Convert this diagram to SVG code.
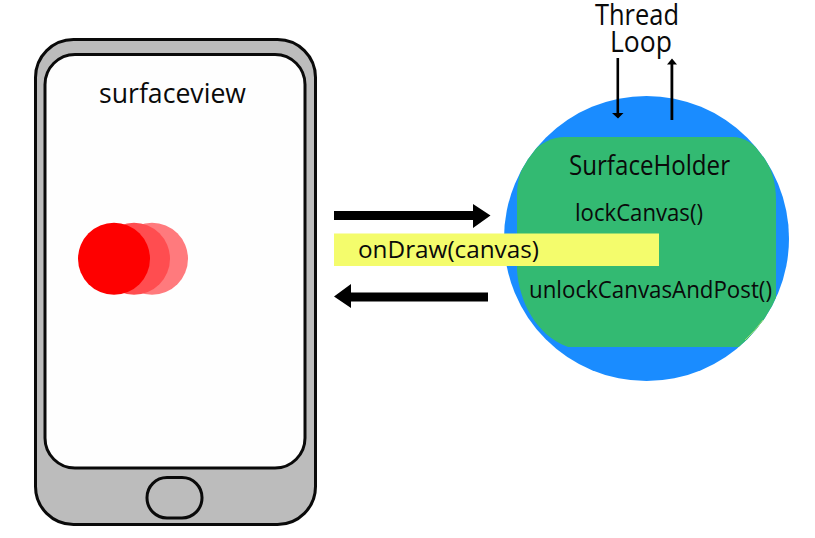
<svg xmlns="http://www.w3.org/2000/svg" width="815" height="538" viewBox="0 0 815 538">
<style>
text{font-family:"Open Sans","Noto Sans","Liberation Sans",sans-serif;fill:#0a0a0a}
.xl{font-size:28.500px}.l{font-size:26.500px}.m{font-size:24px}
.ph{stroke:#0a0a0a;stroke-width:3}
.a{fill:#000;stroke:none}
</style>
<defs><clipPath id="circ"><circle cx="646.5" cy="238.5" r="142.5"/></clipPath></defs>
<rect width="815" height="538" fill="#fff"/>
<g id="phone">
<rect class="ph" x="35.500" y="39.500" width="280" height="485" rx="38" fill="#bcbcbc"/>
<rect class="ph" x="45" y="54.500" width="260" height="413.500" rx="30" fill="#fefefe"/>
<rect class="ph" x="147" y="477.500" width="55" height="40.500" rx="20" fill="#bcbcbc"/>
<text class="l" x="99" y="103" textLength="147" lengthAdjust="spacingAndGlyphs">surfaceview</text>
</g>
<g id="ball">
<circle cx="152" cy="258.700" r="36" fill="#ff7a7d"/>
<circle cx="134" cy="258.700" r="36" fill="#ff4d50"/>
<circle cx="114" cy="258.700" r="36" fill="#fe0000"/>
</g>
<g id="surfaceholder">
<circle cx="646.5" cy="238.5" r="142.5" fill="#1a8cff"/>
<path d="M565 137H733C752 137 776 160 776 200V347H568C535 335 519 300 517 270V195C517 160 540 137 565 137Z" fill="#33ba72" clip-path="url(#circ)"/>
<path d="M763 320Q755 331 745 340" fill="none" stroke="#9bdc6e" stroke-width="1"/>
<text class="l" x="569" y="175" textLength="161" lengthAdjust="spacingAndGlyphs">SurfaceHolder</text>
<text class="m" x="575" y="221" textLength="128" lengthAdjust="spacingAndGlyphs">lockCanvas()</text>
<text class="m" x="529" y="298" textLength="243" lengthAdjust="spacingAndGlyphs">unlockCanvasAndPost()</text>
</g>
<g id="ondraw">
<rect x="334" y="233.500" width="325" height="32.500" fill="#f4fc6c"/>
<text class="m" x="358" y="258" textLength="181" lengthAdjust="spacingAndGlyphs">onDraw(canvas)</text>
</g>
<g id="threadloop">
<text class="xl" x="595" y="25" textLength="84" lengthAdjust="spacingAndGlyphs">Thread</text>
<text class="xl" x="610" y="51.500" textLength="62" lengthAdjust="spacingAndGlyphs">Loop</text>
</g>
<g id="connectors">
<path class="a" d="M334 211h139v-7L490.500 215.500 473 228V220H334z"/>
<path class="a" d="M488 292.500H351V284L334 296.500 351 308V301.500H488z"/>
<path class="a" d="M616.500 58h2.600v55h4.400L618 118.500 612 113h4.500z"/>
<path class="a" d="M670.500 120V64.500H667L672 58.500 677 64.500H673.300V120z"/>
</g>
</svg>
